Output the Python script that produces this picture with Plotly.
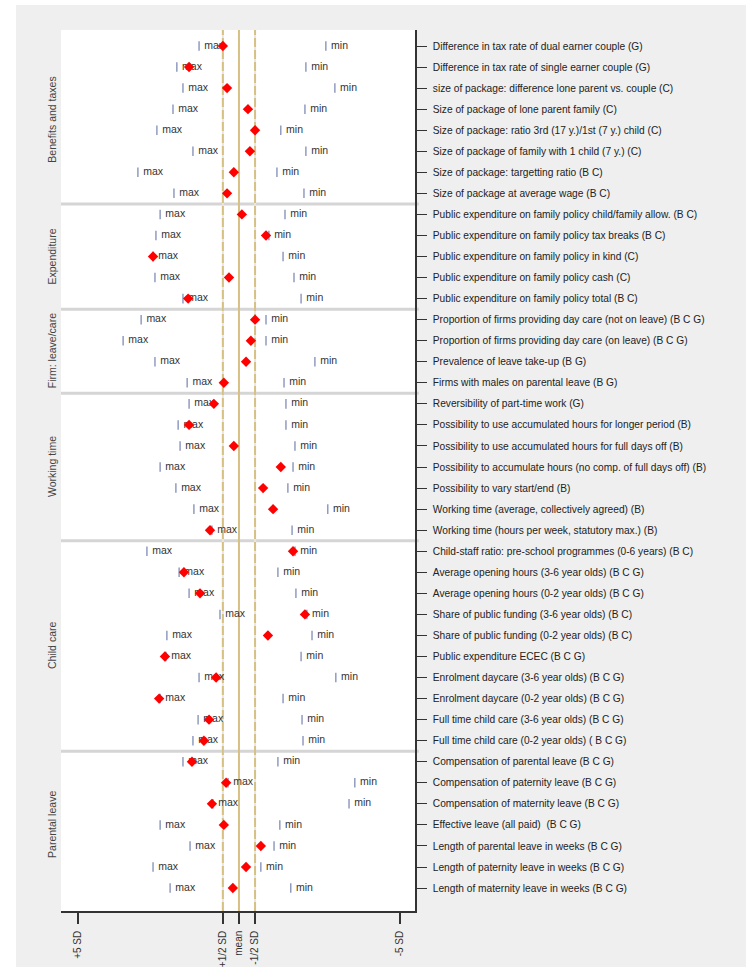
import plotly.graph_objects as go

# Indicator groups (top to bottom) and the number of indicators in each
groups = ["Benefits and taxes", "Expenditure", "Firm: leave/care",
          "Working time", "Child care", "Parental leave"]
group_sizes = [8, 5, 4, 7, 10, 7]

indicators = [
    "Difference in tax rate of dual earner couple (G)",
    "Difference in tax rate of single earner couple (G)",
    "size of package: difference lone parent vs. couple (C)",
    "Size of package of lone parent family (C)",
    "Size of package: ratio 3rd (17 y.)/1st (7 y.) child (C)",
    "Size of package of family with 1 child (7 y.) (C)",
    "Size of package: targetting ratio (B C)",
    "Size of package at average wage (B C)",
    "Public expenditure on family policy child/family allow. (B C)",
    "Public expenditure on family policy tax breaks (B C)",
    "Public expenditure on family policy in kind (C)",
    "Public expenditure on family policy cash (C)",
    "Public expenditure on family policy total (B C)",
    "Proportion of firms providing day care (not on leave) (B C G)",
    "Proportion of firms providing day care (on leave) (B C G)",
    "Prevalence of leave take-up (B G)",
    "Firms with males on parental leave (B G)",
    "Reversibility of part-time work (G)",
    "Possibility to use accumulated hours for longer period (B)",
    "Possibility to use accumulated hours for full days off (B)",
    "Possibility to accumulate hours (no comp. of full days off) (B)",
    "Possibility to vary start/end (B)",
    "Working time (average, collectively agreed) (B)",
    "Working time (hours per week, statutory max.) (B)",
    "Child-staff ratio: pre-school programmes (0-6 years) (B C)",
    "Average opening hours (3-6 year olds) (B C G)",
    "Average opening hours (0-2 year olds) (B C G)",
    "Share of public funding (3-6 year olds) (B C)",
    "Share of public funding (0-2 year olds) (B C)",
    "Public expenditure ECEC (B C G)",
    "Enrolment daycare (3-6 year olds) (B C G)",
    "Enrolment daycare (0-2 year olds) (B C G)",
    "Full time child care (3-6 year olds) (B C G)",
    "Full time child care (0-2 year olds) ( B C G)",
    "Compensation of parental leave (B C G)",
    "Compensation of paternity leave (B C G)",
    "Compensation of maternity leave (B C G)",
    "Effective leave (all paid)  (B C G)",
    "Length of parental leave in weeks (B C G)",
    "Length of paternity leave in weeks (B C G)",
    "Length of maternity leave in weeks (B C G)",
]

# Standardised scores (in SD units; positive = better than mean)
value_sd = [0.50, 1.55, 0.37, -0.28, -0.50, -0.34, 0.16, 0.37,
            -0.09, -0.84, 2.67, 0.31, 1.58,
            -0.50, -0.37, -0.22, 0.47,
            0.78, 1.55, 0.16, -1.30, -0.75, -1.06, 0.90,
            -1.68, 1.71, 1.21, -2.05, -0.90, 2.30, 0.71, 2.48, 0.93, 1.09,
            1.46, 0.40, 0.84, 0.47, -0.68, -0.22, 0.19]
max_sd = [1.24, 1.93, 1.74, 2.05, 2.55, 1.43, 3.14, 2.02,
          2.45, 2.58, 2.67, 2.61, 1.74,
          3.04, 3.60, 2.61, 1.61,
          1.55, 1.89, 1.83, 2.45, 1.96, 1.40, 0.84,
          2.86, 1.86, 1.55, 0.59, 2.24, 2.27, 1.24, 2.45, 1.27, 1.43,
          1.74, 0.34, 0.81, 2.45, 1.52, 2.67, 2.14]
min_sd = [-2.70, -2.08, -2.98, -2.05, -1.30, -2.08, -1.18, -2.02,
          -1.43, -0.93, -1.37, -1.71, -1.93,
          -0.84, -0.84, -2.36, -1.40,
          -1.46, -1.46, -1.74, -1.68, -1.52, -2.76, -1.65,
          -1.74, -1.21, -1.77, -2.11, -2.27, -1.93, -3.01, -1.37, -1.96, -1.99,
          -1.21, -3.60, -3.42, -1.27, -1.09, -0.68, -1.61]

tick_vals = [5, 0.5, 0, -0.5, -5]
tick_text = ["+5 SD", "+1/2 SD", "mean", "-1/2 SD", "-5 SD"]

rows = list(range(len(indicators)))
FONT = "Liberation Sans, Arial, sans-serif"
TAN = "#d6c084"
BAR = "#7f8cb6"

fig = go.Figure()

for vals, word in ((max_sd, "max"), (min_sd, "min")):
    fig.add_trace(go.Scatter(
        x=vals, y=rows, mode="markers+text", text=[word] * len(rows),
        textposition="middle right", cliponaxis=False,
        textfont=dict(family=FONT, size=10.5, color="#333333"),
        marker=dict(symbol="line-ns", size=6.8, line=dict(color=BAR, width=1.3)),
        hoverinfo="skip"))

fig.add_trace(go.Scatter(
    x=value_sd, y=rows, mode="markers",
    marker=dict(symbol="diamond", size=8, color="#ff0000", line=dict(width=0)),
    hoverinfo="skip"))

shapes = []
# Outer white border strips (left and top)
shapes.append(dict(type="rect", xref="paper", yref="paper", x0=-0.2, x1=-0.1271,
                   y0=-0.2, y1=1.2, fillcolor="white", line=dict(width=0), layer="below"))
shapes.append(dict(type="rect", xref="paper", yref="paper", x0=-0.2, x1=2.0,
                   y0=1.0284, y1=1.2, fillcolor="white", line=dict(width=0), layer="below"))

# Group separators
edge = 0
for n in group_sizes[:-1]:
    edge += n
    shapes.append(dict(type="line", xref="paper", yref="y", x0=0, x1=1.011,
                       y0=edge - 0.5, y1=edge - 0.5,
                       line=dict(color="#d5d5d5", width=3), layer="below"))

# Reference lines at +1/2 SD, mean and -1/2 SD
for xv in (0.5, -0.5):
    shapes.append(dict(type="line", xref="x", yref="paper", x0=xv, x1=xv, y0=0, y1=1,
                       line=dict(color="#e6e6e6", width=2), layer="below"))
    shapes.append(dict(type="line", xref="x", yref="paper", x0=xv, x1=xv, y0=0, y1=1,
                       line=dict(color=TAN, width=2, dash="9px,3px"), layer="below"))
shapes.append(dict(type="line", xref="x", yref="paper", x0=0, x1=0, y0=0, y1=1,
                   line=dict(color=TAN, width=2), layer="below"))

# Group titles in the left column
annotations = []
start = 0
for name, n in zip(groups, group_sizes):
    annotations.append(dict(
        text=name, xref="paper", yref="y", x=-0.0254, y=start + (n - 1) / 2,
        xanchor="center", yanchor="middle", textangle=-90, showarrow=False,
        font=dict(family=FONT, size=10.5, color="#444444")))
    start += n

fig.update_layout(
    width=746, height=967,
    margin=dict(l=61, r=331, t=30, b=56),
    paper_bgcolor="#efefef", plot_bgcolor="white",
    showlegend=False, hovermode=False,
    shapes=shapes, annotations=annotations,
    font=dict(family=FONT, size=10, color="#222222"),
    xaxis=dict(range=[5.53, -5.47], tickvals=tick_vals, ticktext=tick_text,
               tickangle=-90, ticks="outside", ticklen=11, tickwidth=1.5,
               tickcolor="#333333", showline=True, linecolor="#333333", linewidth=1.5,
               showgrid=False, zeroline=False, automargin=False,
               ticklabelstandoff=3,
               tickfont=dict(family=FONT, size=10, color="#333333")),
    yaxis=dict(side="right", range=[len(rows) - 1 + 1.09, -0.76],
               tickvals=rows, ticktext=indicators,
               ticks="outside", ticklen=10, tickwidth=1.2, tickcolor="#333333",
               showline=True, linecolor="#333333", linewidth=1.5,
               showgrid=False, zeroline=False, automargin=False,
               ticklabelstandoff=4,
               tickfont=dict(family=FONT, size=10.2, color="#222222")),
)

fig.write_html("out.html")
